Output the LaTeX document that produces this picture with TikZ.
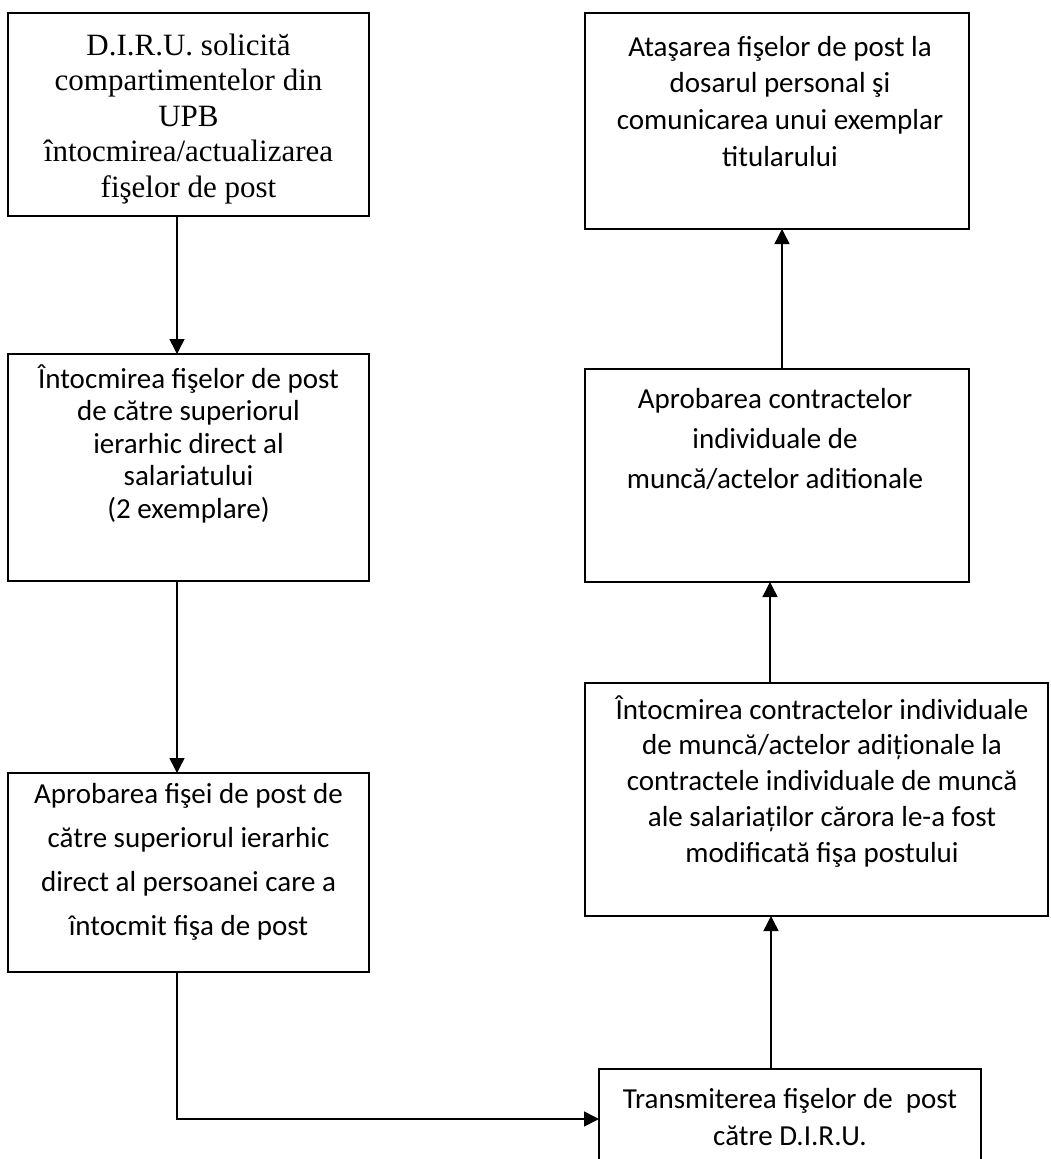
\documentclass[tikz,border=0pt]{standalone}
\usepackage{fontspec}
\setmainfont{Liberation Serif}
\newfontfamily\calfont{Carlito}
\usetikzlibrary{arrows.meta}
\newcommand\firstst{\rule{0pt}{25pt}}
\begin{document}
\begin{tikzpicture}[x=1pt,y=-1pt,
  box/.style={draw, line width=1.5pt, inner sep=0pt, outer sep=0pt, anchor=north west},
  txt/.style={inner sep=0pt, outer sep=0pt, anchor=north, align=center},
  arr/.style={line width=1.5pt, -{Triangle[length=15pt,width=15pt]}}]
\useasboundingbox (0,0) rectangle (1050,1159);
\fill[white] (0,0) rectangle (1050,1159);

% boxes
\node[box, minimum width=361pt, minimum height=203pt] (b1) at (8,13) {};
\node[box, minimum width=361pt, minimum height=227pt] (b2) at (8,354) {};
\node[box, minimum width=361pt, minimum height=199pt] (b3) at (8,773) {};
\node[box, minimum width=384pt, minimum height=216pt] (b4) at (585,13) {};
\node[box, minimum width=384pt, minimum height=213pt] (b5) at (585,369) {};
\node[box, minimum width=463pt, minimum height=233pt] (b6) at (585,683) {};
\node[box, minimum width=382pt, minimum height=130pt] (b7) at (599,1069) {};

% texts
\node[txt, font=\fontsize{31}{35.5}\selectfont] (t1) at (188.5,30)
  {\firstst D.I.R.U. solicită\\compartimentelor din\\UPB\\întocmirea/actualizarea\\fişelor de post};
\node[txt, font=\calfont\fontsize{29}{32.5}\selectfont] (t2) at (188.5,363)
  {\firstst Întocmirea fişelor de post\\de către superiorul\\ierarhic direct al\\salariatului\\(2 exemplare)};
\node[txt, font=\calfont\fontsize{29}{44}\selectfont] (t3) at (188.5,778)
  {\firstst Aprobarea fişei de post de\\către superiorul ierarhic\\direct al persoanei care a\\întocmit fişa de post};
\node[txt, font=\calfont\fontsize{29}{36.7}\selectfont] (t4) at (780,31)
  {\firstst Ataşarea fişelor de post la\\dosarul personal şi\\comunicarea unui exemplar\\titularului};
\node[txt, font=\calfont\fontsize{29}{40}\selectfont] (t5) at (775,383)
  {\firstst Aprobarea contractelor\\individuale de\\muncă/actelor aditionale};
\node[txt, font=\calfont\fontsize{29}{35.8}\selectfont] (t6) at (822,694)
  {\firstst Întocmirea contractelor individuale\\de muncă/actelor adiționale la\\contractele individuale de muncă\\ale salariaților cărora le-a fost\\modificată fişa postului};
\node[txt, font=\calfont\fontsize{29}{37}\selectfont] (t7) at (790,1083)
  {\firstst Transmiterea fişelor de~~post\\către D.I.R.U.};

% connector helpers
\coordinate (xl) at (177,0);
\coordinate (xa) at (782,0);
\coordinate (xb) at (770,0);
\coordinate (xc) at (771,0);
\coordinate (j) at (177,1119);

\draw[arr] (b1.south -| xl) -- (b2.north -| xl);
\draw[arr] (b2.south -| xl) -- (b3.north -| xl);
\draw[arr] (b3.south -| xl) -- (j) -- (j -| b7.west);
\draw[arr] (b7.north -| xc) -- (b6.south -| xc);
\draw[arr] (b6.north -| xb) -- (b5.south -| xb);
\draw[arr] (b5.north -| xa) -- (b4.south -| xa);
\end{tikzpicture}
\end{document}
